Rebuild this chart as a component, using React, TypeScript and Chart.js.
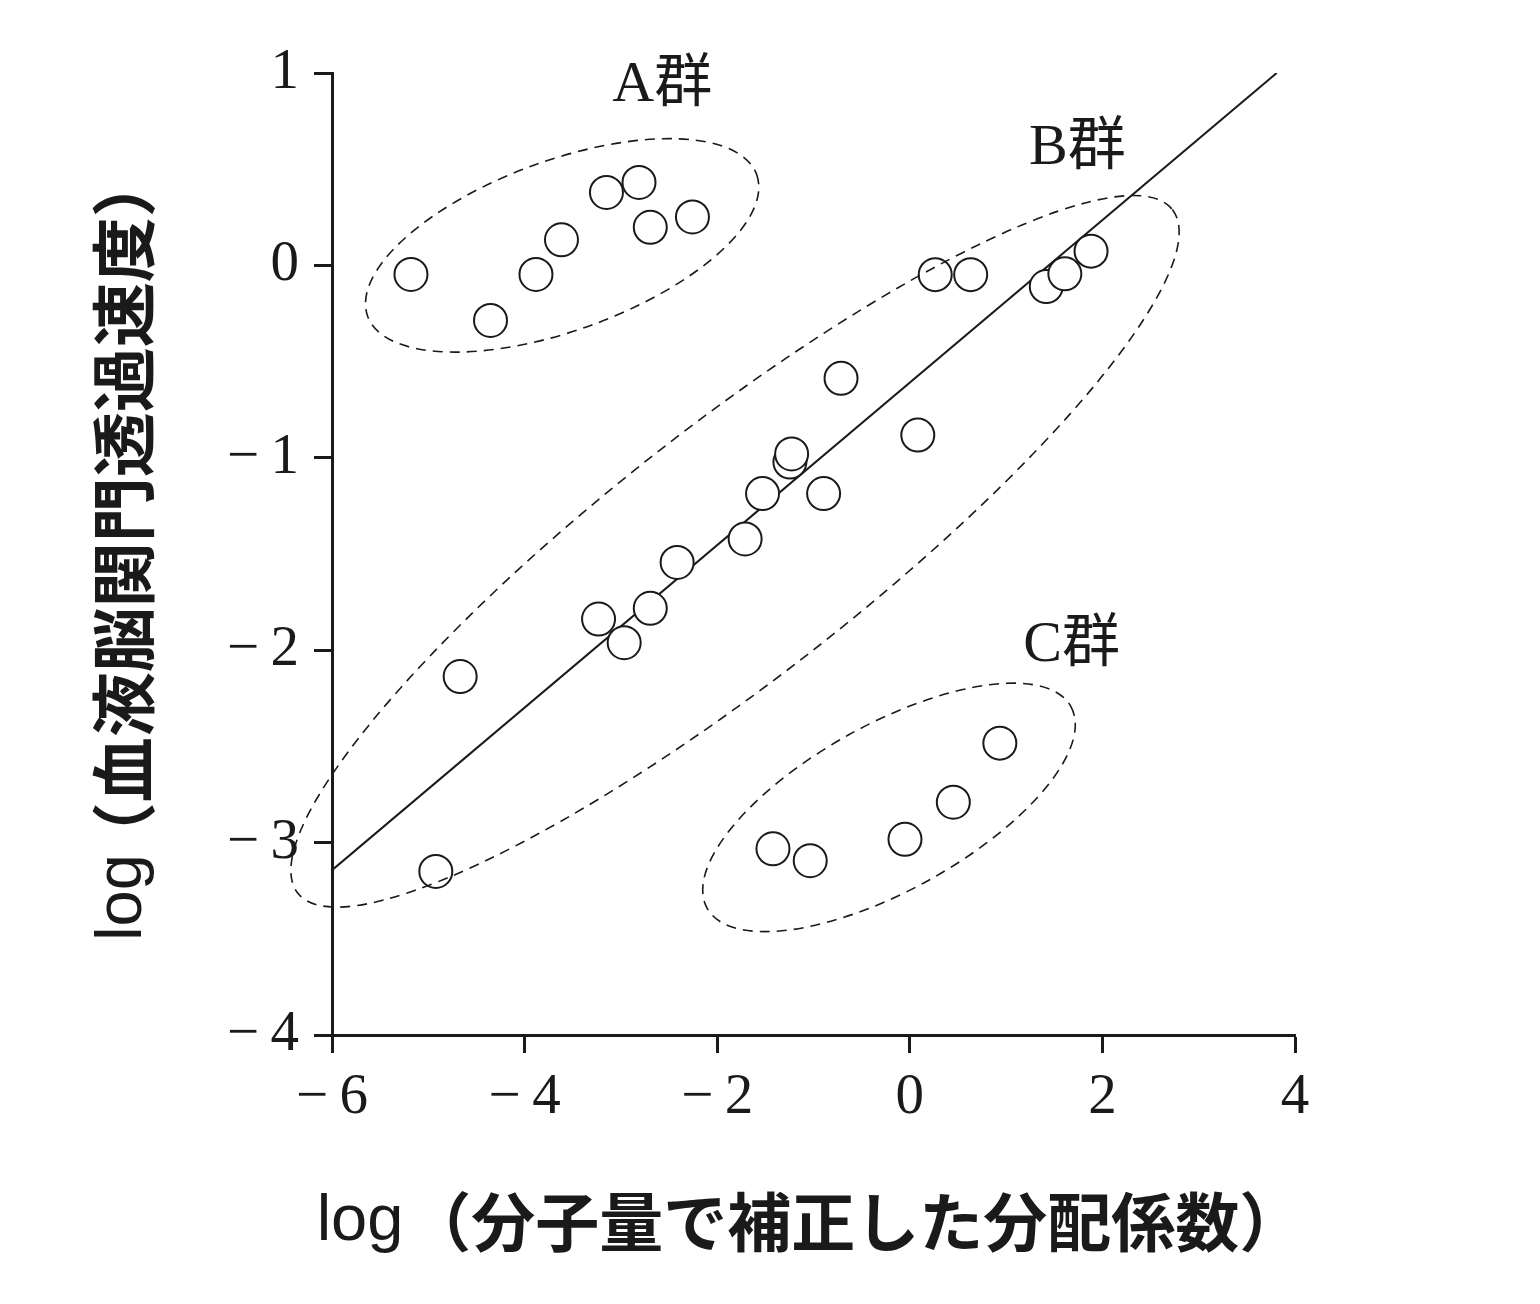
import React, { useEffect, useRef } from 'react';
import { Chart, registerables } from 'chart.js';

Chart.register(...registerables);

// ---- data ----
const groupAX = [-5.18, -4.354, -3.882, -3.617, -3.15, -2.812, -2.695, -2.257];
const groupAY = [-0.047, -0.286, -0.047, 0.133, 0.379, 0.431, 0.198, 0.252];

const groupBX = [-4.922, -4.669, -3.232, -2.966, -2.695, -2.416, -1.71, -1.529, -1.245, -1.227, -0.895, -0.714, 0.083, 0.264, 0.632, 1.417, 1.61, 1.882];
const groupBY = [-3.15, -2.137, -1.838, -1.961, -1.782, -1.544, -1.422, -1.186, -1.022, -0.98, -1.186, -0.587, -0.882, -0.048, -0.048, -0.11, -0.044, 0.074];

const groupCX = [-1.421, -1.034, -0.05, 0.452, 0.935];
const groupCY = [-3.032, -3.094, -2.983, -2.79, -2.483];

const fitLineX = [-6, 3.81];
const fitLineY = [-3.143, 1.0];

const xTickValues = [-6, -4, -2, 0, 2, 4];
const yTickValues = [-4, -3, -2, -1, 0, 1];

const groupNames = ['A群', 'B群', 'C群'];
const groupLabelX = [-2.57, 1.74, 1.68];
const groupLabelY = [0.936, 0.608, -1.975];

const ellipseCenterX = [-3.61, -1.815, -0.216];
const ellipseCenterY = [0.104, -1.486, -2.817];

const titlePrefix = 'log';
const xTitleRest = '（分子量で補正した分配係数）';
const yTitleRest = '（血液脳関門透過速度）';

// ---- styling ----
const INK = '#1a1a1a';
const ellipseShapes = [
  { rx: 207, ry: 85, angleDeg: -20 },
  { rx: 555, ry: 126, angleDeg: -38 },
  { rx: 208, ry: 83, angleDeg: -29 },
];
const PREFIX_FONT = "65px 'Liberation Sans', Arial, sans-serif";
const cjkFont = (size: number) => `bold ${size}px 'Noto Sans CJK JP', sans-serif`;

const toPoints = (xs: number[], ys: number[]) => xs.map((x, i) => ({ x, y: ys[i] }));

const fmtTick = (v: number | string) => {
  const n = Number(v);
  return n < 0 ? '\u2212\u2009' + Math.abs(n) : String(n);
};

const ellipsePlugin = {
  id: 'groupEllipses',
  afterDatasetsDraw(chart: any) {
    const { ctx, scales } = chart;
    ctx.save();
    ctx.strokeStyle = INK;
    ctx.lineWidth = 1.6;
    ctx.setLineDash([10, 7]);
    ellipseCenterX.forEach((cx, i) => {
      const px = scales.x.getPixelForValue(cx);
      const py = scales.y.getPixelForValue(ellipseCenterY[i]);
      const s = ellipseShapes[i];
      ctx.beginPath();
      ctx.ellipse(px, py, s.rx, s.ry, (s.angleDeg * Math.PI) / 180, 0, Math.PI * 2);
      ctx.stroke();
    });
    ctx.restore();
  },
};

const labelPlugin = {
  id: 'groupLabels',
  afterDatasetsDraw(chart: any) {
    const { ctx, scales } = chart;
    ctx.save();
    ctx.fillStyle = INK;
    ctx.font = "58px 'Liberation Serif', 'Noto Sans CJK JP', serif";
    ctx.textAlign = 'center';
    ctx.textBaseline = 'middle';
    groupNames.forEach((name, i) => {
      ctx.fillText(name, scales.x.getPixelForValue(groupLabelX[i]), scales.y.getPixelForValue(groupLabelY[i]));
    });
    ctx.restore();
  },
};

// axis titles: regular "log" + bold CJK part
const drawMixedTitle = (ctx: CanvasRenderingContext2D, rest: string, gap: number, cjkSize: number) => {
  ctx.font = PREFIX_FONT;
  const w1 = ctx.measureText(titlePrefix).width;
  ctx.font = cjkFont(cjkSize);
  const w2 = ctx.measureText(rest).width;
  const total = w1 + gap + w2;
  ctx.font = PREFIX_FONT;
  ctx.fillText(titlePrefix, -total / 2, 0);
  ctx.font = cjkFont(cjkSize);
  ctx.fillText(rest, -total / 2 + w1 + gap, 0);
};

const axisTitlePlugin = {
  id: 'axisTitles',
  afterDraw(chart: any) {
    const { ctx, chartArea } = chart;
    ctx.save();
    ctx.fillStyle = INK;
    ctx.textAlign = 'left';
    ctx.textBaseline = 'middle';
    // x title
    ctx.save();
    ctx.translate((chartArea.left + chartArea.right) / 2 - 3.5, chartArea.bottom + 187);
    drawMixedTitle(ctx, xTitleRest, 4, 64);
    ctx.restore();
    // y title
    ctx.save();
    ctx.translate(chartArea.left - 209, (chartArea.top + chartArea.bottom) / 2 - 7.5);
    ctx.rotate(-Math.PI / 2);
    drawMixedTitle(ctx, yTitleRest, -13, 65);
    ctx.restore();
    ctx.restore();
  },
};

const pointStyle = {
  pointRadius: 16.5,
  pointBorderWidth: 2,
  pointBackgroundColor: '#ffffff',
  pointBorderColor: INK,
  showLine: false,
  order: 1,
};

export default function App() {
  const ref = useRef<HTMLCanvasElement>(null);

  useEffect(() => {
    const canvas = ref.current;
    if (!canvas) return;
    const tickFont = { family: "'Liberation Serif', serif", size: 57, lineHeight: 1 };

    const chart = new Chart(canvas, {
      type: 'scatter',
      data: {
        datasets: [
          {
            type: 'line',
            label: 'fit',
            data: toPoints(fitLineX, fitLineY),
            borderColor: INK,
            borderWidth: 2,
            pointRadius: 0,
            fill: false,
            showLine: true,
            order: 3,
          } as any,
          { label: 'A', data: toPoints(groupAX, groupAY), ...pointStyle },
          { label: 'B', data: toPoints(groupBX, groupBY), ...pointStyle },
          { label: 'C', data: toPoints(groupCX, groupCY), ...pointStyle },
        ],
      },
      options: {
        responsive: false,
        animation: false,
        devicePixelRatio: 1,
        layout: { padding: { top: 73, right: 245, left: 0, bottom: 0 } },
        plugins: {
          legend: { display: false },
          tooltip: { enabled: false },
        },
        scales: {
          x: {
            type: 'linear',
            position: 'bottom',
            min: -6,
            max: 4,
            afterBuildTicks: (scale: any) => {
              scale.ticks = xTickValues.map((v) => ({ value: v }));
            },
            afterFit: (scale: any) => {
              scale.height = 269;
            },
            ticks: { callback: fmtTick, font: tickFont, color: INK, padding: 17, maxRotation: 0, autoSkip: false },
            grid: { drawOnChartArea: false, drawTicks: true, tickLength: 18, tickWidth: 3, tickColor: INK },
            border: { display: true, width: 3, color: INK },
            title: { display: false },
          },
          y: {
            type: 'linear',
            position: 'left',
            min: -4,
            max: 1,
            afterBuildTicks: (scale: any) => {
              scale.ticks = yTickValues.map((v) => ({ value: v }));
            },
            afterFit: (scale: any) => {
              scale.width = 332;
            },
            ticks: { callback: fmtTick, font: tickFont, color: INK, padding: 15, autoSkip: false },
            grid: { drawOnChartArea: false, drawTicks: true, tickLength: 18, tickWidth: 3, tickColor: INK },
            border: { display: true, width: 3, color: INK },
            title: { display: false },
          },
        },
      } as any,
      plugins: [ellipsePlugin, labelPlugin, axisTitlePlugin],
    });
    return () => chart.destroy();
  }, []);

  return (
    <div style={{ position: 'absolute', left: 0, top: 0, width: 1540, height: 1304, background: '#ffffff' }}>
      <canvas ref={ref} width={1540} height={1304} style={{ display: 'block', width: 1540, height: 1304 }} />
    </div>
  );
}
